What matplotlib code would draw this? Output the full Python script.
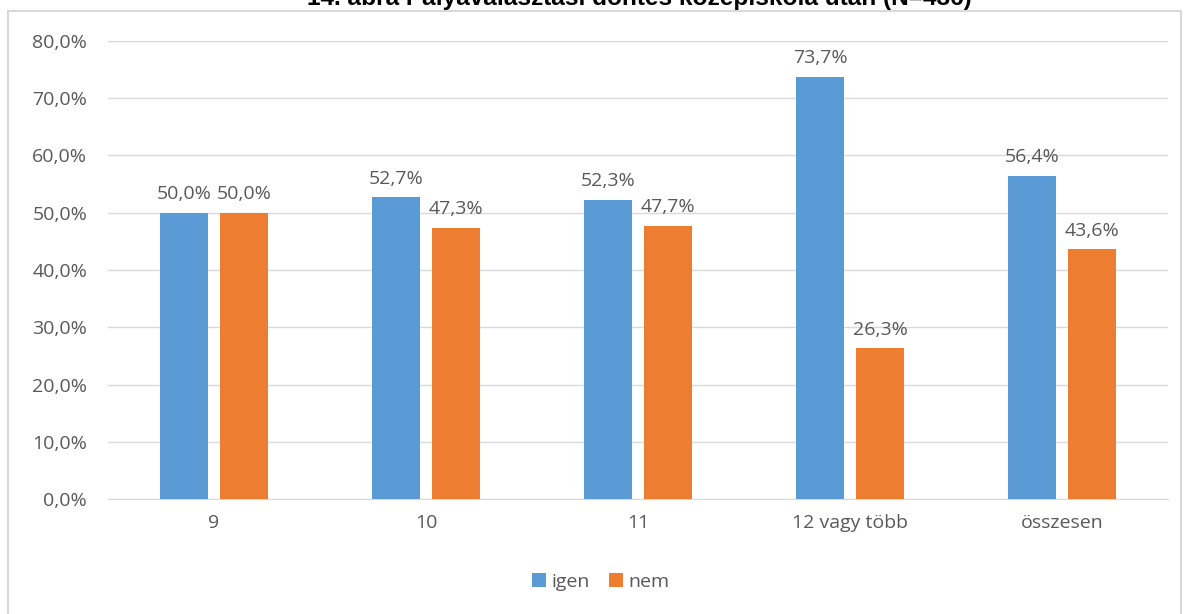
import matplotlib
matplotlib.use("Agg")
import matplotlib.pyplot as plt
from matplotlib.patches import Rectangle
import numpy as np

categories = ["9", "10", "11", "12 vagy több", "összesen"]
igen = [50.0, 52.7, 52.3, 73.7, 56.4]
nem = [50.0, 47.3, 47.7, 26.3, 43.6]
yticks = [0, 10, 20, 30, 40, 50, 60, 70, 80]

BLUE = "#5b9bd5"
ORANGE = "#ed7d31"
TEXT = "#595959"
FS = 14

plt.rcParams["font.family"] = ["Open Sans", "DejaVu Sans"]

fig = plt.figure(figsize=(11.9, 6.14), dpi=100)
ax = fig.add_axes([108 / 1190, 1 - 499 / 614, 1060 / 1190, 458 / 614])

x = np.arange(len(categories))
w = 48 / 212
gap = 12 / 212
b1 = ax.bar(x - (w + gap) / 2, igen, w, color=BLUE, label="igen", zorder=3)
b2 = ax.bar(x + (w + gap) / 2, nem, w, color=ORANGE, label="nem", zorder=3)

def fmt(v):
    return f"{v:.1f}%".replace(".", ",")

for bars, vals in ((b1, igen), (b2, nem)):
    for r, v in zip(bars, vals):
        ax.annotate(fmt(v), (r.get_x() + r.get_width() / 2, v),
                    xytext=(0, 7), textcoords="offset points",
                    ha="center", va="bottom", fontsize=FS, color=TEXT)

ax.set_xlim(-0.5, len(categories) - 0.5)
ax.set_ylim(0, 80)
ax.set_yticks(yticks)
ax.set_yticklabels([fmt(t) for t in yticks], fontsize=FS, color=TEXT)
ax.set_xticks(x)
ax.set_xticklabels(categories, fontsize=FS, color=TEXT)
ax.tick_params(axis="both", length=0)
ax.tick_params(axis="y", pad=15)
ax.tick_params(axis="x", pad=11)
ax.yaxis.grid(True, color="#d9d9d9", linewidth=1, zorder=0)
for s in ("top", "right", "left"):
    ax.spines[s].set_visible(False)
ax.spines["bottom"].set_color("#d9d9d9")

fig.legend(handles=[b1, b2], labels=["igen", "nem"], loc="center",
           bbox_to_anchor=(601 / 1190, 1 - 582 / 614), ncol=2, frameon=False,
           fontsize=FS, handlelength=0.7, handleheight=0.7,
           handletextpad=0.3, columnspacing=1.0, labelcolor=TEXT)

fig.patches.append(Rectangle((8 / 1190, -0.02), 1173 / 1190, 1.02 - 11 / 614,
                             transform=fig.transFigure, fill=False,
                             edgecolor="#d9d9d9", linewidth=1.5))

fig.text(639 / 1190, 1 - 5 / 614,
         "14. ábra Pályaválasztási döntés középiskola után (N=436)",
         ha="center", va="baseline", fontsize=17.6, fontweight="bold",
         family=["Liberation Sans", "DejaVu Sans"], color="black")

fig.savefig("out.png", dpi=100, facecolor="white")
